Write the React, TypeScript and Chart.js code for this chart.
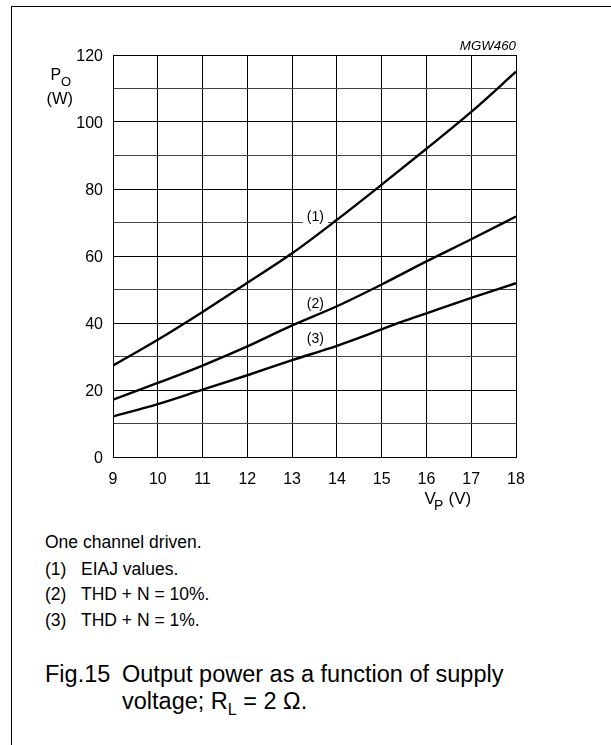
import React, { useEffect, useRef } from 'react';
import { Chart, registerables } from 'chart.js';

Chart.register(...registerables);

const FONT = '"Liberation Sans", Arial, Helvetica, sans-serif';

// Supply voltage V_P (V)
const voltages = [9, 10, 11, 12, 13, 14, 15, 16, 17, 18];
// (1) EIAJ values
const powerEIAJ = [27.3, 35, 43.3, 52, 60.8, 70.8, 81.3, 92, 103, 115];
// (2) THD + N = 10%
const powerTHD10 = [17.1, 22.1, 27.3, 33, 39.3, 45, 51.5, 58.4, 65, 71.8];
// (3) THD + N = 1%  (own voltage grid: small bend near 15.5 V)
const voltagesTHD1 = [9, 10, 11, 12, 13, 14, 15, 15.5, 16, 17, 18];
const powerTHD1 = [12.1, 15.8, 20.1, 24.4, 28.9, 33.2, 38.1, 40.6, 42.9, 47.5, 51.9];

const curveLabels = ['(1)', '(2)', '(3)'];
const curveLabelV = [13.52, 13.52, 13.52];
const curveLabelP = [71.8, 46, 35.5];

const yMin = 0;
const yMax = 120;
const yGridStep = 10;
const yLabelStep = 20;
const xMin = 9;
const xMax = 18;

const noteHeader = 'One channel driven.';
const noteTags = ['(1)', '(2)', '(3)'];
const noteTexts = ['EIAJ values.', 'THD + N = 10%.', 'THD + N = 1%.'];

const toPoints = (xs: number[], ys: number[]) => xs.map((v, i) => ({ x: v, y: ys[i] }));

const annotPlugin = {
  id: 'annot',
  beforeDatasetsDraw(chart: any) {
    const { ctx, scales } = chart;
    const x = scales.x;
    const y = scales.y;
    ctx.save();
    ctx.font = `14px ${FONT}`;
    // white backing behind label (1), which interrupts the grid line
    const px = x.getPixelForValue(curveLabelV[0]);
    const py = y.getPixelForValue(curveLabelP[0]);
    const w = ctx.measureText(curveLabels[0]).width;
    ctx.fillStyle = '#fff';
    ctx.fillRect(px - w / 2 - 4, py - 8, w + 8, 16);
    ctx.restore();
  },
  afterDatasetsDraw(chart: any) {
    const { ctx, scales, chartArea } = chart;
    const x = scales.x;
    const y = scales.y;
    ctx.save();
    ctx.fillStyle = '#000';
    ctx.textBaseline = 'middle';
    ctx.textAlign = 'center';
    ctx.font = `14px ${FONT}`;
    curveLabels.forEach((t, i) => {
      ctx.fillText(t, x.getPixelForValue(curveLabelV[i]), y.getPixelForValue(curveLabelP[i]) + 1);
    });

    ctx.textBaseline = 'alphabetic';
    ctx.textAlign = 'left';
    // Y axis title: P_O (W)
    const L = chartArea.left;
    const T = chartArea.top;
    ctx.font = `16px ${FONT}`;
    ctx.fillText('P', L - 62.5, T + 24.5);
    ctx.font = `13px ${FONT}`;
    ctx.fillText('O', L - 52, T + 30.5);
    ctx.font = `16.5px ${FONT}`;
    ctx.fillText('(W)', L - 66.5, T + 49);

    // X axis title: V_P (V)
    const R = chartArea.right;
    const B = chartArea.bottom;
    ctx.font = `17px ${FONT}`;
    ctx.fillText('V', R - 91.5, B + 47);
    ctx.font = `14px ${FONT}`;
    ctx.fillText('P', R - 82, B + 53);
    ctx.font = `17px ${FONT}`;
    ctx.fillText('(V)', R - 67.5, B + 47);

    // drawing code
    ctx.textAlign = 'right';
    ctx.font = `italic 13.3px ${FONT}`;
    ctx.fillText('MGW460', R, T - 5.5);
    ctx.restore();
  },
};

export default function App() {
  const canvasRef = useRef<HTMLCanvasElement | null>(null);

  useEffect(() => {
    const canvas = canvasRef.current;
    if (!canvas) return;
    const lineStyle = {
      borderColor: '#000',
      borderWidth: 2.4,
      pointRadius: 0,
      fill: false,
      cubicInterpolationMode: 'monotone' as const,
    };
    const chart = new Chart(canvas, {
      type: 'line',
      data: {
        datasets: [
          { label: '(1)', data: toPoints(voltages, powerEIAJ), ...lineStyle },
          { label: '(2)', data: toPoints(voltages, powerTHD10), ...lineStyle },
          { label: '(3)', data: toPoints(voltagesTHD1, powerTHD1), ...lineStyle },
        ],
      },
      options: {
        animation: false,
        responsive: false,
        devicePixelRatio: 1,
        layout: { padding: { left: 0, top: 55, right: 95, bottom: 0 } },
        plugins: {
          legend: { display: false },
          tooltip: { enabled: false },
          title: { display: false },
        },
        scales: {
          x: {
            type: 'linear',
            min: xMin,
            max: xMax,
            ticks: {
              stepSize: 1,
              color: '#000',
              font: { family: FONT, size: 16 },
              padding: 13,
              maxRotation: 0,
            },
            grid: { color: '#000', lineWidth: 1, drawTicks: false },
            border: { display: true, color: '#000', width: 1 },
            afterFit: (scale: any) => {
              scale.height = 73;
            },
          },
          y: {
            type: 'linear',
            min: yMin,
            max: yMax,
            ticks: {
              stepSize: yGridStep,
              color: '#000',
              font: { family: FONT, size: 16 },
              padding: 10,
              labelOffset: 2,
              callback: (v: any) => (Number(v) % yLabelStep === 0 ? String(v) : ''),
            },
            grid: {
              color: (c: any) => (c.tick && c.tick.value % yLabelStep === 0 ? '#000' : '#444'),
              lineWidth: 1,
              drawTicks: false,
            },
            border: { display: true, color: '#000', width: 1 },
            afterFit: (scale: any) => {
              scale.width = 113;
            },
          },
        },
      },
      plugins: [annotPlugin],
    });
    return () => chart.destroy();
  }, []);

  const noteStyle: React.CSSProperties = {
    position: 'absolute',
    left: 45,
    fontSize: 17.5,
    lineHeight: '20px',
    whiteSpace: 'nowrap',
  };
  const capStyle: React.CSSProperties = {
    position: 'absolute',
    fontSize: 23.5,
    lineHeight: '28px',
    whiteSpace: 'nowrap',
  };

  return (
    <div
      style={{
        position: 'absolute',
        left: 0,
        top: 0,
        width: 611,
        height: 745,
        background: '#fff',
        overflow: 'hidden',
        fontFamily: FONT,
        color: '#000',
      }}
    >
      <div
        style={{
          position: 'absolute',
          left: 11,
          top: 6,
          width: 600,
          height: 745,
          borderTop: '1.5px solid #000',
          borderLeft: '1.5px solid #000',
          boxSizing: 'border-box',
        }}
      />
      <canvas
        ref={canvasRef}
        width={611}
        height={530}
        style={{ position: 'absolute', left: 0, top: 0, width: 611, height: 530 }}
      />
      <div style={{ ...noteStyle, top: 532 }}>{noteHeader}</div>
      {noteTags.map((tag, i) => (
        <React.Fragment key={tag}>
          <div style={{ ...noteStyle, top: 558.5 + i * 25.5 }}>{tag}</div>
          <div style={{ ...noteStyle, left: 81, top: 558.5 + i * 25.5 }}>{noteTexts[i]}</div>
        </React.Fragment>
      ))}
      <div style={{ ...capStyle, left: 45, top: 660 }}>Fig.15</div>
      <div style={{ ...capStyle, left: 122, top: 660 }}>Output power as a function of supply</div>
      <div style={{ ...capStyle, left: 122, top: 687 }}>
        voltage; R<sub style={{ fontSize: 16, verticalAlign: 'sub', lineHeight: 0 }}>L</sub> = 2 Ω.
      </div>
    </div>
  );
}
